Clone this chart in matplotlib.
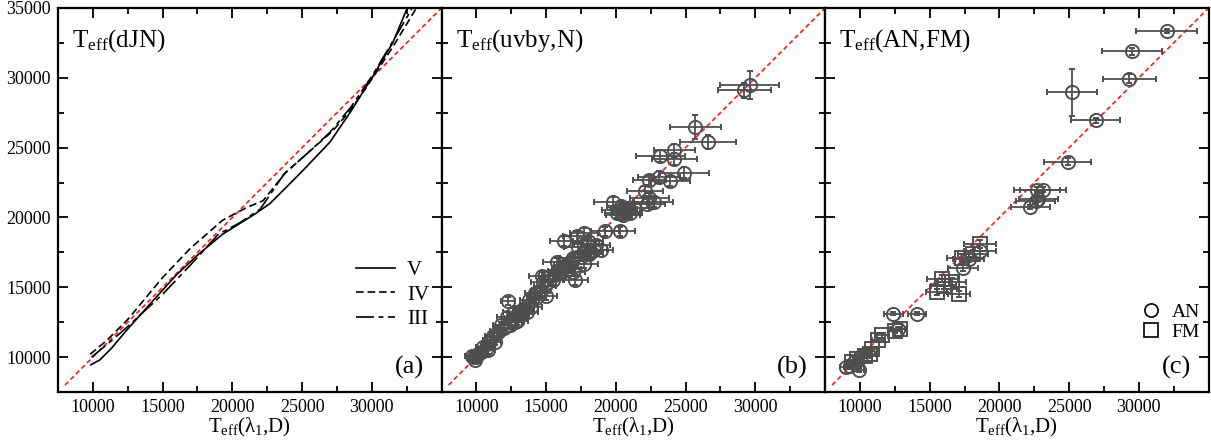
import matplotlib
matplotlib.use("Agg")
import matplotlib.pyplot as plt
from matplotlib.lines import Line2D
from matplotlib.ticker import MultipleLocator

plt.rcParams["font.family"] = ["Liberation Serif", "DejaVu Serif"]
plt.rcParams["mathtext.fontset"] = "custom"
plt.rcParams["mathtext.rm"] = "Liberation Serif"
plt.rcParams["mathtext.it"] = "Liberation Serif:italic"
plt.rcParams["lines.scale_dashes"] = False

# ---- panel (a): calibration curves for luminosity classes V, IV, III ----
v_x = [9850, 10500, 11300, 12400, 14000, 16000, 17500, 19300, 21700, 22700,
       25000, 27000, 28500, 30000, 31500, 32500]
v_y = [9450, 9800, 10600, 11900, 13700, 15900, 17300, 18800, 20300, 21000,
       23300, 25400, 27600, 30000, 32500, 34900]

iv_x = [9800, 11000, 12500, 15000, 17000, 19300, 21000, 22200, 23800, 25500,
        27200, 28400, 29600, 31500, 33200]
iv_y = [10200, 11200, 12700, 15700, 17800, 19800, 20700, 21200, 23200, 24700,
        26200, 27600, 29300, 32200, 35000]

iii_x = [9900, 11000, 12400, 15000, 17000, 19000, 20500, 22000, 23700, 25500,
         27000, 28500, 30000, 31500, 32900]
iii_y = [10000, 10900, 12100, 14500, 16600, 18800, 19600, 20600, 23100, 24700,
         26100, 27900, 30100, 32600, 35000]

# ---- panel (b): uvby,N temperatures ----
b_x = [29200, 29600, 25700, 26600, 24200, 23200, 24200, 24900, 23100, 22400,
       23900, 22100, 22400, 22200, 22700, 19800, 20200, 20500, 21300, 19200,
       20300, 17700, 17200, 16300, 18000, 18600, 17300, 18100, 16900, 15800,
       17700, 16600, 14700, 17100, 16100, 15500, 14800, 15000, 14300, 12300,
       12700, 13600, 13100, 12200, 12900, 13900, 11600, 11200, 11000, 10500,
       10100, 9700, 9900, 10800, 11800, 14600, 16400, 18900, 21000, 20600,
       20400, 20700, 20100, 17900, 18400, 17500, 16800, 16200, 15900, 15300,
       14900, 14200, 13800, 13400, 13000, 12600, 12400, 12000, 11500, 11300,
       10900, 10700, 10300, 10000, 9800, 13300, 12800, 15600, 16900, 18200]
b_y = [29100, 29500, 26500, 25400, 24800, 24400, 24200, 23200, 22900, 22700,
       22600, 21900, 21400, 21000, 21100, 21100, 20500, 20200, 20700, 19000,
       19000, 18900, 18700, 18300, 18300, 18000, 17900, 17400, 17100, 16800,
       16700, 16300, 15800, 15500, 16000, 15500, 15400, 14400, 14200, 14000,
       13200, 13200, 13000, 12900, 12600, 13600, 11900, 11500, 11200, 10700,
       10200, 10100, 9800, 10500, 12300, 14700, 16600, 17700, 20300, 20600,
       20800, 20400, 20300, 18100, 17700, 17200, 16900, 16400, 16200, 15800,
       15100, 14600, 14100, 13500, 13100, 12800, 12300, 12100, 11700, 11100,
       11000, 10600, 10400, 10000, 10000, 13400, 12500, 15900, 16100, 17500]
b_xerr = [1900, 2100, 1850, 2000, 1500, 1750, 1600, 1750, 1500, 1200,
          1400, 1300, 1400, 1300, 1400, 1400, 1200, 1200, 1100, 1000,
          1100, 1000, 1000, 1000, 1100, 1000, 1000, 1000, 900, 1000,
          1000, 900, 900, 900, 900, 800, 900, 800, 700, 500,
          800, 800, 700, 700, 800, 800, 600, 600, 500, 500,
          500, 500, 400, 500, 600, 700, 800, 900, 900, 900,
          1000, 1000, 900, 900, 1000, 900, 900, 800, 800, 800,
          800, 700, 700, 700, 700, 600, 600, 600, 500, 500,
          500, 500, 400, 400, 400, 700, 600, 800, 900, 900]
b_yerr = [550, 1000, 850, 500, 450, 450, 450, 400, 400, 350,
          350, 350, 350, 350, 350, 400, 350, 350, 350, 350,
          350, 350, 350, 350, 350, 300, 300, 300, 300, 300,
          300, 300, 300, 300, 300, 300, 300, 300, 300, 300,
          300, 300, 300, 300, 300, 300, 250, 250, 250, 250,
          250, 250, 250, 250, 250, 300, 300, 300, 350, 350,
          350, 350, 350, 300, 300, 300, 300, 300, 300, 300,
          300, 300, 300, 300, 300, 300, 250, 250, 250, 250,
          250, 250, 250, 250, 250, 300, 300, 300, 300, 300]

# ---- panel (c): AN and FM temperatures ----
an_x = [32000, 29500, 29300, 25200, 26900, 24900, 22700, 23100, 22600, 22800,
        22200, 18600, 17800, 17400, 12400, 14100, 12700, 10050, 9600, 9000,
        9900, 9300]
an_y = [33350, 31900, 29950, 28950, 26950, 24000, 22000, 22000, 21200, 21300,
        20750, 17600, 17000, 16400, 13100, 13100, 12000, 10100, 9650, 9300,
        9050, 9400]
an_xerr = [2200, 2150, 1900, 1800, 1750, 1700, 1650, 1650, 1400, 1400,
           1400, 1150, 1100, 1050, 700, 650, 500, 400, 400, 400,
           400, 400]
an_yerr = [150, 250, 300, 1650, 200, 250, 150, 150, 250, 200,
           150, 250, 200, 250, 100, 100, 150, 150, 150, 150,
           150, 150]

fm_x = [18600, 18100, 17300, 15900, 16600, 16000, 15500, 17100, 12900, 12500,
        11600, 11300, 10900, 10700, 10400, 9800, 9400]
fm_y = [18100, 17400, 17100, 15600, 15400, 15100, 14650, 14500, 12000, 11900,
        11550, 11200, 10600, 10250, 10100, 9850, 9650]
fm_xerr = [1150, 1100, 1050, 1100, 1000, 900, 750, 800, 500, 450,
           400, 400, 350, 350, 350, 300, 300]
fm_yerr = [300, 250, 250, 250, 250, 250, 200, 200, 150, 150,
           150, 150, 150, 150, 150, 150, 150]

titles = [r"T$_{\rm eff}$(dJN)", r"T$_{\rm eff}$(uvby,N)", r"T$_{\rm eff}$(AN,FM)"]
tags = ["(a)", "(b)", "(c)"]
xlabel = r"T$_{\rm eff}$(λ$_1$,D)"
lims = (7500, 35000)
one_to_one = [8000, 35000]

GREY = "#4f4f4f"
RED = "#ff1a1a"

fig = plt.figure(figsize=(12.11, 4.44), dpi=100)
left, bottom, width, height = 0.0479, 0.117, 0.3167, 0.865
axes = [fig.add_axes([left + i * width, bottom, width, height]) for i in range(3)]

for i, ax in enumerate(axes):
    ax.set_xlim(*lims)
    ax.set_ylim(*lims)
    ax.plot(one_to_one, one_to_one, color=RED, lw=1.2, ls=(0, (3.4, 2.2)), zorder=1)
    ax.set_xticks([10000, 15000, 20000, 25000, 30000])
    ax.xaxis.set_minor_locator(MultipleLocator(2500))
    ax.yaxis.set_major_locator(MultipleLocator(5000))
    ax.yaxis.set_minor_locator(MultipleLocator(2500))
    ax.tick_params(which="both", direction="in", top=True, right=True,
                   width=1.3, labelsize=13, colors="black")
    ax.tick_params(which="major", length=7, pad=5)
    ax.tick_params(which="minor", length=4)
    for s in ax.spines.values():
        s.set_linewidth(1.6)
    if i > 0:
        ax.tick_params(axis="y", labelleft=False)
    ax.set_xlabel(xlabel, fontsize=15, labelpad=0)
    ax.text(0.037, 0.95, titles[i], transform=ax.transAxes, fontsize=18,
            ha="left", va="top")
    ax.text(0.955, 0.035, tags[i], transform=ax.transAxes, fontsize=19,
            ha="right", va="bottom")

# panel (a) curves
ax = axes[0]
ax.plot(v_x, v_y, color="black", lw=1.2, ls="-", label="V")
ax.plot(iv_x, iv_y, color="black", lw=1.2, ls=(0, (5.5, 2.8)), label="IV")
ax.plot(iii_x, iii_y, color="black", lw=1.2, ls=(0, (13, 3.2, 3.5, 3.2)), label="III")
ax.legend(loc="center right", bbox_to_anchor=(0.99, 0.253), frameon=False,
          fontsize=15, handlelength=1.85, handletextpad=0.6, labelspacing=0.25,
          borderaxespad=0)

# panel (b) points
ax = axes[1]
ax.errorbar(b_x, b_y, xerr=b_xerr, yerr=b_yerr, fmt="o", ms=9.5, mfc="none",
            mec=GREY, mew=1.4, ecolor=GREY, elinewidth=1.3, capsize=2.2,
            capthick=1.3, zorder=2)

# panel (c) points
ax = axes[2]
ax.errorbar(an_x, an_y, xerr=an_xerr, yerr=an_yerr, fmt="o", ms=9.5, mfc="none",
            mec=GREY, mew=1.4, ecolor=GREY, elinewidth=1.3, capsize=2.2,
            capthick=1.3, zorder=2)
ax.errorbar(fm_x, fm_y, xerr=fm_xerr, yerr=fm_yerr, fmt="s", ms=9.5, mfc="none",
            mec=GREY, mew=1.4, ecolor=GREY, elinewidth=1.3, capsize=2.2,
            capthick=1.3, zorder=2)
handles = [Line2D([], [], marker="o", ls="none", ms=9.5, mfc="none", mec="black", mew=1.2),
           Line2D([], [], marker="s", ls="none", ms=9.5, mfc="none", mec="black", mew=1.2)]
ax.legend(handles, ["AN", "FM"], loc="center right", bbox_to_anchor=(0.998, 0.182),
          frameon=False, fontsize=14, handletextpad=0.45, labelspacing=0.12,
          borderaxespad=0, handlelength=1.2)

fig.savefig("out.png", dpi=100)
